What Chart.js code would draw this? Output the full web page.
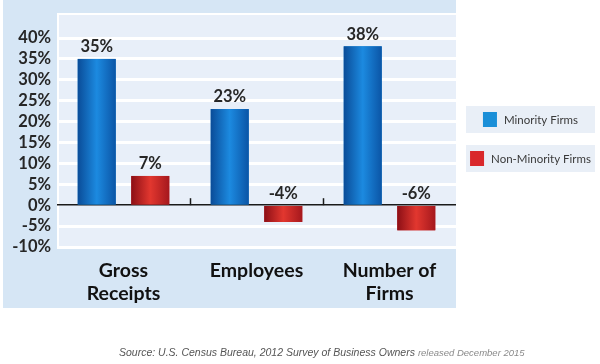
<!DOCTYPE html>
<html>
<head>
<meta charset="utf-8">
<style>
  html, body { margin: 0; padding: 0; background: #fff; }
  #wrap { width: 600px; height: 364px; }
</style>
<script src="https://cdn.jsdelivr.net/npm/chart.js@4.4.0/dist/chart.umd.min.js"></script>
</head>
<body>
<div id="wrap"><canvas id="growthChart" width="600" height="364"></canvas></div>
<script>
// data
const categories = [["Gross", "Receipts"], "Employees", ["Number of", "Firms"]];
const seriesNames = ["Minority Firms", "Non-Minority Firms"];
const minorityValues = [35, 23, 38];
const nonMinorityValues = [7, -4, -6];
const yMin = -10, yMax = 40, yStep = 5;
const sourceMain = "Source: U.S. Census Bureau, 2012 Survey of Business Owners";
const sourceTail = "released December 2015";

const solidColors = ["#1580cf", "#c8222a"];
const legendColors = ["#1a8fd8", "#d9282b"];
const gradStops = [
  ["#0a4c98", "#1c8ae0", "#0b55a6"],
  ["#8c0f16", "#e2372f", "#a5181d"]
];

// panel + plot background, zero line ticks
const backgroundPlugin = {
  id: "panelBg",
  beforeDraw(chart) {
    const { ctx, chartArea } = chart;
    ctx.save();
    ctx.fillStyle = "#d6e6f5";
    ctx.fillRect(3, 0, chartArea.right - 3, 308);
    const top = chartArea.top - 25;
    ctx.fillStyle = "#e8eff9";
    ctx.fillRect(chartArea.left, top, chartArea.right - chartArea.left, chartArea.bottom - top);
    ctx.strokeStyle = "#ffffff";
    ctx.lineWidth = 2;
    ctx.beginPath();
    ctx.moveTo(chartArea.left + 1, chartArea.bottom);
    ctx.lineTo(chartArea.left + 1, top + 1);
    ctx.lineTo(chartArea.right, top + 1);
    ctx.stroke();
    ctx.restore();
  },
  beforeDatasetsDraw(chart) {
    const { ctx, scales } = chart;
    const zero = scales.y.getPixelForValue(0);
    const half = (scales.x.getPixelForValue(1) - scales.x.getPixelForValue(0)) / 2;
    ctx.save();
    ctx.strokeStyle = "#1a1a1a";
    ctx.lineWidth = 1.5;
    for (let i = 0; i < categories.length - 1; i++) {
      const x = Math.round(scales.x.getPixelForValue(i) + half) + 0.5;
      ctx.beginPath();
      ctx.moveTo(x, zero);
      ctx.lineTo(x, zero - 7);
      ctx.stroke();
    }
    ctx.restore();
  }
};

// shaded bars
const gradientBars = {
  id: "gradientBars",
  afterDatasetDraw(chart, args) {
    const { ctx } = chart;
    const stops = gradStops[args.index];
    ctx.save();
    args.meta.data.forEach(function (el) {
      const p = el.getProps(["x", "y", "base", "width"], true);
      const left = p.x - p.width / 2;
      const g = ctx.createLinearGradient(left, 0, left + p.width, 0);
      g.addColorStop(0, stops[0]);
      g.addColorStop(0.5, stops[1]);
      g.addColorStop(1, stops[2]);
      ctx.fillStyle = g;
      ctx.fillRect(left, Math.min(p.y, p.base), p.width, Math.abs(p.y - p.base));
    });
    ctx.restore();
  }
};

// value labels, legend and source note
const annotations = {
  id: "annotations",
  afterDatasetsDraw(chart) {
    const { ctx } = chart;
    ctx.save();
    ctx.font = "bold 16.5px Lato";
    ctx.fillStyle = "#262626";
    ctx.textAlign = "center";
    ctx.textBaseline = "middle";
    chart.data.datasets.forEach(function (ds, di) {
      chart.getDatasetMeta(di).data.forEach(function (el, i) {
        const p = el.getProps(["x", "y", "base"], true);
        ctx.fillText(ds.data[i] + "%", p.x, Math.min(p.y, p.base) - 12);
      });
    });
    ctx.restore();
  },
  afterDraw(chart) {
    const { ctx } = chart;
    ctx.save();
    ctx.textBaseline = "middle";
    ctx.textAlign = "left";
    const boxTops = [106, 145];
    chart.data.datasets.forEach(function (ds, i) {
      const bx = 466, bw = 129, bh = 27, by = boxTops[i];
      ctx.fillStyle = "#e9eff7";
      ctx.fillRect(bx, by, bw, bh);
      ctx.font = "11.5px Lato";
      const tw = ctx.measureText(ds.label).width;
      const total = 14 + 7 + tw;
      const sx = bx + (bw - total) / 2;
      ctx.fillStyle = legendColors[i];
      ctx.fillRect(sx, by + 6, 14, 15);
      ctx.fillStyle = "#3a3a3a";
      ctx.fillText(ds.label, sx + 21, by + bh / 2 + 0.5);
    });

    ctx.font = "italic 10.5px 'Liberation Sans'";
    ctx.fillStyle = "#555555";
    ctx.fillText(sourceMain, 119, 353);
    const w = ctx.measureText(sourceMain).width;
    ctx.font = "italic 9.5px 'Liberation Sans'";
    ctx.fillStyle = "#8a8a8a";
    ctx.fillText(sourceTail, 119 + w + 3, 353.5);
    ctx.restore();
  }
};

const ctx = document.getElementById("growthChart").getContext("2d");

new Chart(ctx, {
  type: "bar",
  data: {
    labels: categories,
    datasets: [
      {
        label: seriesNames[0],
        data: minorityValues,
        backgroundColor: solidColors[0],
        categoryPercentage: 0.805,
        barPercentage: 0.71
      },
      {
        label: seriesNames[1],
        data: nonMinorityValues,
        backgroundColor: solidColors[1],
        categoryPercentage: 0.805,
        barPercentage: 0.71
      }
    ]
  },
  options: {
    responsive: false,
    animation: false,
    layout: { padding: { top: 38, right: 144, left: 0, bottom: 0 } },
    plugins: {
      legend: { display: false },
      tooltip: { enabled: false }
    },
    scales: {
      x: {
        grid: { display: false },
        border: { display: false },
        ticks: {
          color: "#111111",
          font: { family: "Lato", size: 19.5, weight: "bold", lineHeight: 1.15 },
          padding: 5,
          maxRotation: 0
        },
        afterFit: function (scale) { scale.height = 117; }
      },
      y: {
        min: yMin,
        max: yMax,
        border: { display: false },
        grid: {
          drawTicks: false,
          color: function (c) { return c.tick && c.tick.value === 0 ? "#1a1a1a" : "#ffffff"; },
          lineWidth: function (c) { return c.tick && c.tick.value === 0 ? 1.5 : 3; }
        },
        ticks: {
          stepSize: yStep,
          autoSkip: false,
          color: "#262626",
          font: { family: "Lato", size: 16.5, weight: "bold" },
          padding: 6,
          callback: function (v) { return v + "%"; }
        },
        afterFit: function (scale) { scale.width = 57; }
      }
    }
  },
  plugins: [backgroundPlugin, gradientBars, annotations]
});
</script>
</body>
</html>
